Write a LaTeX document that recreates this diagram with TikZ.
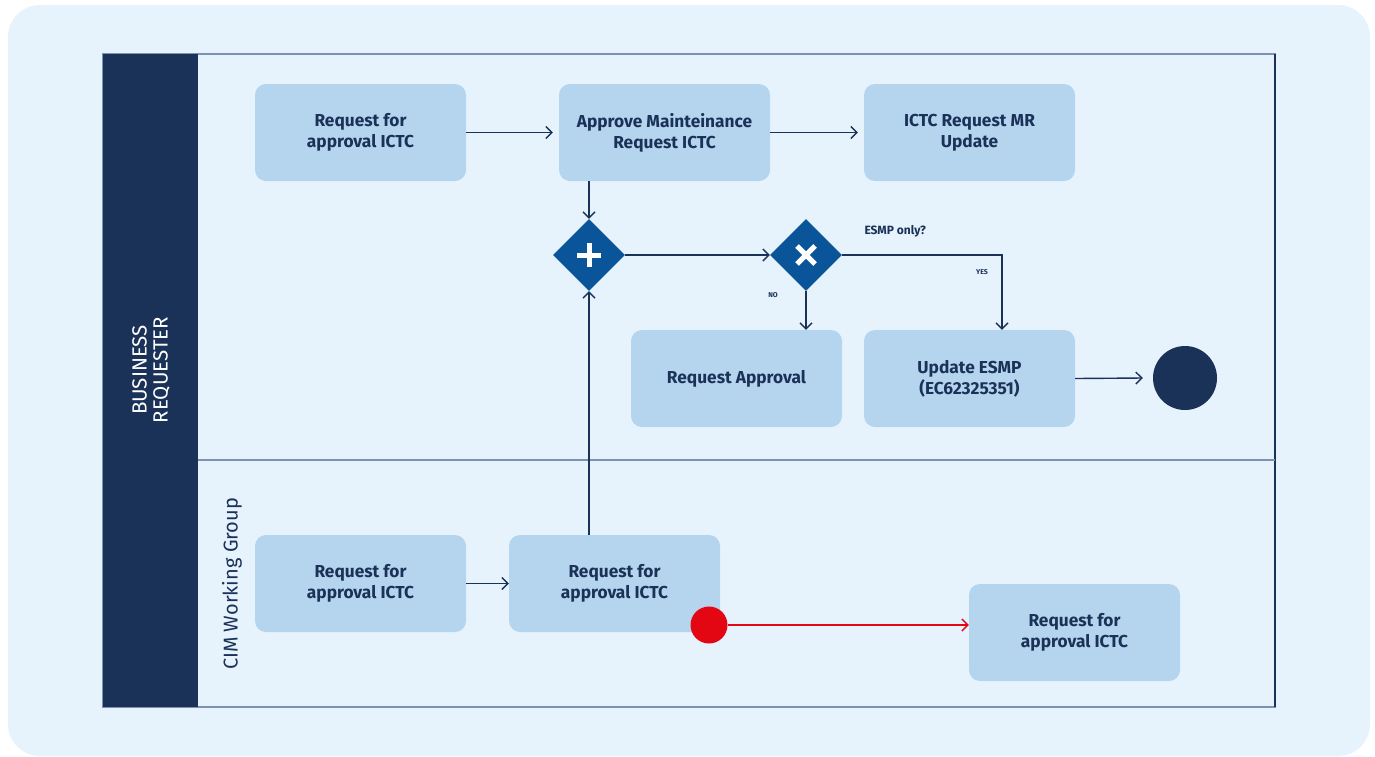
\documentclass[tikz,border=0pt]{standalone}
\usepackage{fontspec}
\setmainfont{Fira Sans}
\usetikzlibrary{arrows.meta,shapes.geometric}
\definecolor{navy}{HTML}{1A3158}
\definecolor{gwblue}{HTML}{0A5499}
\definecolor{taskfill}{HTML}{B5D5EE}
\definecolor{bgfill}{HTML}{E6F3FD}
\definecolor{laneline}{HTML}{7D92B0}
\definecolor{evred}{HTML}{E30613}
\begin{document}
\begin{tikzpicture}[x=1pt,y=-1pt,
  task/.style={rectangle,rounded corners=11pt,fill=taskfill,minimum width=211pt,minimum height=97pt,
    align=center,text=navy,font=\bfseries\fontsize{17.3}{21}\selectfont},
  gateway/.style={diamond,fill=gwblue,minimum width=72pt,minimum height=72pt,inner sep=0pt},
  flow/.style={draw=navy,line width=1.4pt,-{Straight Barb[length=6pt,width=12pt,line width=1.4pt]}},
  redflow/.style={draw=evred,line width=1.4pt,-{Straight Barb[length=6pt,width=12pt,line width=1.4pt]}},
  lbl/.style={text=navy,font=\bfseries\fontsize{12}{14}\selectfont},
  tiny/.style={text=navy,font=\bfseries\fontsize{7}{8}\selectfont}]
\useasboundingbox (0,0) rectangle (1375,756);
% canvas
\fill[white] (0,0) rectangle (1375,756);
\fill[bgfill,rounded corners=32pt] (8,5) rectangle (1370,756);
% pool and lanes
\draw[laneline,line width=1.3pt] (103,54) rectangle (1275,707);
\draw[navy,line width=1.3pt] (1275,54) -- (1275,707);
\draw[laneline,line width=1.3pt] (198,460) -- (1275,460);
\fill[navy] (103,54) rectangle (198,707);
\node[rotate=90,text=white,align=center,font=\fontsize{20.5}{21}\selectfont] (pooltitle) at (151,370) {BUSINESS\\REQUESTER};
\node[rotate=90,text=navy,font=\fontsize{20}{22}\selectfont] (lanetitle) at (232,584) {CIM Working Group};
% tasks
\node[task] (t1) at (360.5,132.5) {Request for\\approval ICTC};
\node[task] (t2) at (664.5,132.5) {Approve Mainteinance\\Request ICTC};
\node[task] (t3) at (969.5,132.5) {ICTC Request MR\\Update};
\node[task] (t4) at (736.5,378.5) {Request Approval};
\node[task] (t5) at (969.5,378.5) {Update ESMP\\(EC62325351)};
\node[task] (t6) at (360.5,583.5) {Request for\\approval ICTC};
\node[task] (t7) at (614.5,583.5) {Request for\\approval ICTC};
\node[task] (t8) at (1074.5,632.5) {Request for\\approval ICTC};
% gateways
\node[gateway] (gp) at (589,255) {};
\draw[white,line width=5pt] ([yshift=-12pt]gp.center) -- ([yshift=12pt]gp.center)
  ([xshift=-12pt]gp.center) -- ([xshift=12pt]gp.center);
\node[gateway] (gx) at (806,255) {};
\draw[white,line width=5pt] ([shift={(-9pt,-9pt)}]gx.center) -- ([shift={(9pt,9pt)}]gx.center)
  ([shift={(-9pt,9pt)}]gx.center) -- ([shift={(9pt,-9pt)}]gx.center);
% events
\node[circle,fill=navy,minimum size=64pt,inner sep=0pt] (endev) at (1185,378) {};
\node[circle,fill=evred,minimum size=37pt,inner sep=0pt] (errev) at (709,625) {};
% labels
\node[lbl,anchor=west] (q) at (861,231) {ESMP only?};
\node[tiny] (no) at (773,295) {NO};
\node[tiny] (yes) at (982,272) {YES};
% sequence flows
\coordinate (yescorner) at (1002,255);
\draw[flow] (t1.east) -- ([xshift=-6pt]t2.west);
\draw[flow] (t2.east) -- ([xshift=-6pt]t3.west);
\draw[flow] (t2.south -| gp.north) -- (gp.north);
\draw[flow] (gp.east) -- (gx.west);
\draw[flow] (gx.south) -- (t4.north -| gx.south);
\draw[flow] (gx.east) -- (yescorner) -- (yescorner |- t5.north);
\draw[flow] (t5.east) -- ([xshift=-10pt]endev.west);
\draw[flow] (t6.east) -- (t7.west);
\draw[flow] (t7.north -| gp.south) -- (gp.south);
\draw[redflow] (errev.east) -- (errev.east -| t8.west);
\end{tikzpicture}
\end{document}
